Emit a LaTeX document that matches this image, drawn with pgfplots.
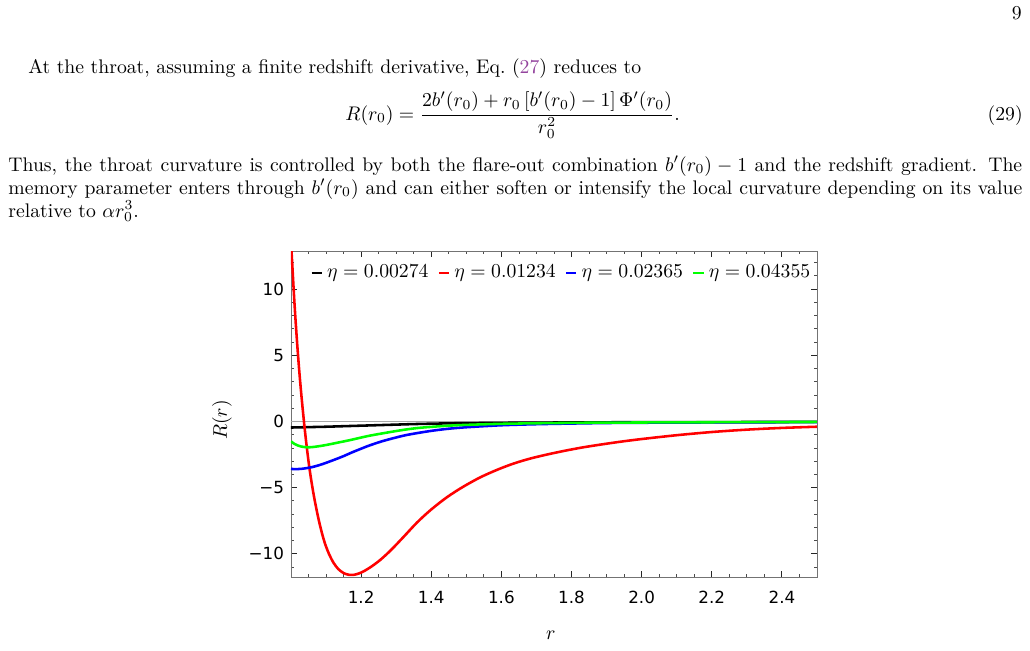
\documentclass[border=0pt]{standalone}
\usepackage{fontspec}
\usepackage{pgfplots}
\pgfplotsset{compat=1.18}
\newfontfamily\tickfont{DejaVu Sans}
\definecolor{linkpurple}{rgb}{0.58,0.27,0.62}
\definecolor{mgreen}{rgb}{0,1,0}

\pgfplotstableread{
r R
1.000 -0.46
1.050 -0.43
1.100 -0.40
1.150 -0.36
1.200 -0.32
1.250 -0.28
1.300 -0.24
1.350 -0.20
1.400 -0.17
1.450 -0.145
1.500 -0.13
1.600 -0.105
1.700 -0.09
1.800 -0.075
1.900 -0.065
2.000 -0.058
2.200 -0.048
2.500 -0.038
}\tblack

\pgfplotstableread{
r R
1.000 13.5
1.003 12.2
1.007 10.3
1.011 8.5
1.015 6.9
1.019 5.4
1.024 3.7
1.030 1.9
1.037 0.0
1.044 -1.7
1.052 -3.4
1.060 -4.8
1.068 -6.0
1.078 -7.3
1.088 -8.4
1.098 -9.3
1.110 -10.1
1.122 -10.7
1.135 -11.15
1.150 -11.45
1.165 -11.58
1.180 -11.58
1.195 -11.47
1.210 -11.28
1.230 -10.95
1.255 -10.45
1.285 -9.72
1.320 -8.75
1.360 -7.62
1.400 -6.65
1.445 -5.72
1.490 -4.95
1.540 -4.22
1.590 -3.63
1.635 -3.18
1.680 -2.82
1.730 -2.50
1.780 -2.22
1.830 -1.97
1.880 -1.76
1.940 -1.53
2.000 -1.33
2.100 -1.04
2.200 -0.80
2.300 -0.62
2.400 -0.49
2.500 -0.40
}\tred

\pgfplotstableread{
r R
1.000 -3.58
1.010 -3.60
1.030 -3.58
1.060 -3.45
1.090 -3.22
1.125 -2.88
1.150 -2.62
1.173 -2.35
1.200 -2.06
1.220 -1.85
1.250 -1.58
1.270 -1.42
1.320 -1.08
1.360 -0.88
1.406 -0.69
1.450 -0.55
1.500 -0.44
1.600 -0.29
1.700 -0.21
1.800 -0.16
1.900 -0.12
2.000 -0.10
2.200 -0.075
2.500 -0.05
}\tblue

\pgfplotstableread{
r R
1.000 -1.50
1.010 -1.70
1.020 -1.82
1.030 -1.90
1.045 -1.95
1.060 -1.94
1.080 -1.87
1.100 -1.78
1.130 -1.62
1.170 -1.40
1.220 -1.10
1.270 -0.86
1.320 -0.64
1.360 -0.50
1.400 -0.41
1.450 -0.32
1.500 -0.26
1.600 -0.18
1.700 -0.14
1.800 -0.11
1.900 -0.09
2.000 -0.08
2.200 -0.06
2.500 -0.04
}\tgreen

\begin{document}
\begin{tikzpicture}
\path[use as bounding box] (0pt,0pt) rectangle (523.2pt,-330.2pt);
\begin{scope}[x=0.508pt,y=-0.508pt]
\node[anchor=base east,inner sep=0pt] at (1022,19) {9};
\node[anchor=base west,inner sep=0pt] at (28,73) {At the throat, assuming a finite redshift derivative, Eq.~(\textcolor{linkpurple}{27}) reduces to};
\node[anchor=base west,inner sep=0pt] at (345,120) {$\displaystyle R(r_0) = \frac{2b'(r_0) + r_0\,[b'(r_0)-1]\,\Phi'(r_0)}{r_0^2}.$};
\node[anchor=base east,inner sep=0pt] at (1023,120) {(29)};
\node[anchor=base west,inner sep=0pt] at (8,171) {\makebox[515pt][s]{Thus, the throat curvature is controlled by both the flare-out combination $b'(r_0)-1$ and the redshift gradient. The}};
\node[anchor=base west,inner sep=0pt] at (8,194) {\makebox[515pt][s]{memory parameter enters through $b'(r_0)$ and can either soften or intensify the local curvature depending on its value}};
\node[anchor=base west,inner sep=0pt] at (8,217) {relative to $\alpha r_0^3$.};
\end{scope}
\begin{axis}[
  at={(147.8pt,-293.1pt)}, anchor=south west,
  scale only axis, width=267.2pt, height=165.6pt,
  xmin=1, xmax=2.5, ymin=-11.75, ymax=12.87,
  xtick={1.2,1.4,1.6,1.8,2.0,2.2,2.4},
  xticklabels={1.2,1.4,1.6,1.8,2.0,2.2,2.4},
  minor xtick={1.05,1.10,1.15,1.25,1.30,1.35,1.45,1.50,1.55,1.65,1.70,1.75,1.85,1.90,1.95,2.05,2.10,2.15,2.25,2.30,2.35,2.45},
  ytick={-10,-5,0,5,10},
  yticklabels={−10,−5,0,5,10},
  minor ytick={-11,-9,-8,-7,-6,-4,-3,-2,-1,1,2,3,4,6,7,8,9,11,12},
  tick align=inside,
  major tick length=3pt, minor tick length=1.7pt,
  axis line style={black!55},
  major tick style={black!85, line width=0.5pt},
  minor tick style={black!70, line width=0.4pt},
  ticklabel style={font=\tickfont\fontsize{8.5}{10}\selectfont},
  xticklabel style={yshift=-3.5pt},
  xlabel={$r$}, ylabel={$R(r)$},
  xlabel style={at={(axis description cs:0.494,-0.178)}, anchor=center},
  ylabel style={at={(axis description cs:-0.131,0.482)}, anchor=center},
  legend columns=4,
  legend style={at={(axis description cs:0.036,0.933)}, anchor=west, draw=none, fill=none, inner sep=0pt,
    font=\fontsize{10}{11}\selectfont, /tikz/every even column/.append style={column sep=2.6pt}},
  legend image code/.code={\draw[#1,line width=1.3pt] (0pt,0pt) -- (5.3pt,0pt);},
]
\addplot[black!35, line width=0.4pt, forget plot] coordinates {(1,0) (2.5,0)};
\addplot[black, line width=1.3pt, smooth] table[x=r,y=R] {\tblack};
\addlegendentry{$\eta = 0.00274$}
\addplot[red, line width=1.3pt, smooth] table[x=r,y=R] {\tred};
\addlegendentry{$\eta = 0.01234$}
\addplot[blue, line width=1.3pt, smooth] table[x=r,y=R] {\tblue};
\addlegendentry{$\eta = 0.02365$}
\addplot[mgreen, line width=1.3pt, smooth] table[x=r,y=R] {\tgreen};
\addlegendentry{$\eta = 0.04355$}
\end{axis}
\end{tikzpicture}
\end{document}
